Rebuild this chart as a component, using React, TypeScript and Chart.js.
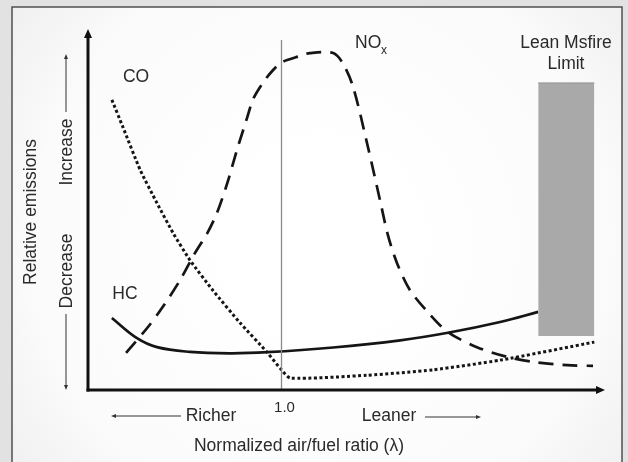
import { useEffect, useRef } from "react";
import { Chart, registerables } from "chart.js";

Chart.register(...registerables);

// Normalized air/fuel ratio (lambda) and relative emissions (0-100, arbitrary units)
const CO_LAMBDA = [0.737, 0.754, 0.781, 0.807, 0.832, 0.858, 0.894, 0.936, 0.978, 0.999, 1.014, 1.133, 1.235, 1.339, 1.485];
const CO_VALUES = [80.6, 73.1, 61.1, 51.9, 43.6, 36.1, 27.6, 18.6, 10.4, 5.8, 3.3, 4.1, 5.6, 8.3, 13.3];

const HC_LAMBDA = [0.737, 0.776, 0.807, 0.858, 0.92, 0.978, 1.08, 1.184, 1.258, 1.339, 1.398];
const HC_VALUES = [20.0, 14.4, 11.9, 10.6, 10.2, 10.5, 11.8, 13.8, 15.9, 18.9, 21.7];

const NOX_LAMBDA = [0.759, 0.793, 0.816, 0.843, 0.866, 0.885, 0.9, 0.916, 0.931, 0.947, 0.956, 0.971, 0.987, 1.001, 1.029, 1.044, 1.08, 1.095, 1.111, 1.134, 1.153, 1.165, 1.179, 1.199, 1.23, 1.258, 1.303, 1.35, 1.39, 1.443, 1.483];
const NOX_VALUES = [10.3, 17.5, 23.1, 30.6, 38.1, 43.6, 49.2, 57.5, 66.7, 75.8, 80.8, 85.3, 88.9, 91.1, 92.8, 93.6, 93.6, 90.8, 84.2, 67.5, 52.5, 43.0, 35.3, 27.8, 21.0, 16.1, 11.9, 9.2, 7.8, 6.9, 6.7];

// Stoichiometric reference line
const STOICH_LAMBDA = [1.0, 1.0];
const STOICH_VALUES = [0, 97.2];

// Lean misfire limit band
const MISFIRE_LAMBDA = [1.398, 1.485];
const MISFIRE_TOP = [85.3, 85.3];
const MISFIRE_BOTTOM = 15.0;

const X_TICK_LABEL = "1.0";
const X_TICK_VALUE = 1.0;

const FONT = "'Liberation Sans', Arial, sans-serif";
const INK = "#2a2a2a";

const pts = (xs: number[], ys: number[]) => xs.map((x, i) => ({ x, y: ys[i] }));

function arrow(
  ctx: CanvasRenderingContext2D,
  x1: number, y1: number, x2: number, y2: number,
  lw: number, headLen: number, headW: number, color: string
) {
  const ang = Math.atan2(y2 - y1, x2 - x1);
  ctx.save();
  ctx.strokeStyle = color;
  ctx.fillStyle = color;
  ctx.lineWidth = lw;
  ctx.beginPath();
  ctx.moveTo(x1, y1);
  ctx.lineTo(x2 - Math.cos(ang) * headLen * 0.6, y2 - Math.sin(ang) * headLen * 0.6);
  ctx.stroke();
  ctx.beginPath();
  ctx.moveTo(x2, y2);
  ctx.lineTo(
    x2 - Math.cos(ang) * headLen - Math.sin(ang) * headW / 2,
    y2 - Math.sin(ang) * headLen + Math.cos(ang) * headW / 2
  );
  ctx.lineTo(
    x2 - Math.cos(ang) * headLen + Math.sin(ang) * headW / 2,
    y2 - Math.sin(ang) * headLen - Math.cos(ang) * headW / 2
  );
  ctx.closePath();
  ctx.fill();
  ctx.restore();
}

export default function App() {
  const ref = useRef<HTMLCanvasElement>(null);

  useEffect(() => {
    const canvas = ref.current;
    if (!canvas) return;

    const bgPlugin = {
      id: "bgFrame",
      beforeDraw(chart: any) {
        const ctx: CanvasRenderingContext2D = chart.ctx;
        const w = chart.width;
        const h = chart.height;
        ctx.save();
        ctx.fillStyle = "#e2e2e2";
        ctx.fillRect(0, 0, w, h);
        const g = ctx.createRadialGradient(320, 240, 80, 320, 240, 420);
        g.addColorStop(0, "#ffffff");
        g.addColorStop(0.6, "#fbfbfb");
        g.addColorStop(1, "#ececec");
        ctx.fillStyle = g;
        ctx.fillRect(12, 7, 610, h);
        ctx.strokeStyle = "#505050";
        ctx.lineWidth = 1.5;
        ctx.beginPath();
        ctx.moveTo(12, h + 5);
        ctx.lineTo(12, 7);
        ctx.lineTo(622, 7);
        ctx.lineTo(622, h + 5);
        ctx.stroke();
        ctx.restore();
      },
    };

    const decoPlugin = {
      id: "deco",
      afterDraw(chart: any) {
        const ctx: CanvasRenderingContext2D = chart.ctx;
        const xs = chart.scales.x;
        const ys = chart.scales.y;
        const x0 = xs.getPixelForValue(xs.min);
        const x1 = xs.getPixelForValue(xs.max);
        const y0 = ys.getPixelForValue(ys.min);
        const y1 = ys.getPixelForValue(ys.max);

        // main axes with arrow heads
        arrow(ctx, x0, y0 + 1.5, x0, y1 - 1, 3, 9, 8, "#111");
        arrow(ctx, x0 - 1.5, y0, x1 + 1, y0, 3, 9, 8, "#111");

        ctx.save();
        ctx.fillStyle = INK;
        ctx.textAlign = "center";
        ctx.textBaseline = "middle";

        // x tick label
        ctx.font = `15px ${FONT}`;
        ctx.fillText(X_TICK_LABEL, xs.getPixelForValue(X_TICK_VALUE) + 3, 408);

        ctx.font = `17.5px ${FONT}`;
        ctx.fillText("Richer", 211, 416);
        ctx.fillText("Leaner", 389, 416);
        ctx.fillText("Normalized air/fuel ratio (\u03bb)", 299, 446);

        // series labels
        ctx.fillText("CO", 136, 77);
        ctx.fillText("HC", 125, 294);
        ctx.textAlign = "left";
        ctx.fillText("NO", 355, 43);
        ctx.font = `12px ${FONT}`;
        ctx.fillText("x", 381, 51);
        ctx.textAlign = "center";
        ctx.font = `17.5px ${FONT}`;
        ctx.fillText("Lean Msfire", 566, 43);
        ctx.fillText("Limit", 566, 64);

        // rotated y labels
        ctx.save();
        ctx.translate(31, 212);
        ctx.rotate(-Math.PI / 2);
        ctx.fillText("Relative emissions", 0, 0);
        ctx.restore();

        ctx.save();
        ctx.translate(67, 152);
        ctx.rotate(-Math.PI / 2);
        ctx.fillText("Increase", 0, 0);
        ctx.restore();

        ctx.save();
        ctx.translate(67, 271);
        ctx.rotate(-Math.PI / 2);
        ctx.fillText("Decrease", 0, 0);
        ctx.restore();
        ctx.restore();

        // small direction arrows
        arrow(ctx, 66, 112, 66, 54, 1, 5, 4, "#333");
        arrow(ctx, 66, 314, 66, 390, 1, 5, 4, "#333");
        arrow(ctx, 181, 416, 111, 416, 1, 5, 4, "#333");
        arrow(ctx, 425, 417, 481, 417, 1, 5, 4, "#333");
      },
    };

    const chart = new Chart(canvas, {
      type: "line",
      data: {
        datasets: [
          {
            label: "Stoich",
            data: pts(STOICH_LAMBDA, STOICH_VALUES),
            borderColor: "#8a8a8a",
            borderWidth: 1.3,
            pointRadius: 0,
            fill: false,
            tension: 0,
          },
          {
            label: "Lean Misfire Limit",
            data: pts(MISFIRE_LAMBDA, MISFIRE_TOP),
            borderColor: "#949494",
            borderWidth: 1,
            backgroundColor: "#a9a9a9",
            pointRadius: 0,
            fill: { value: MISFIRE_BOTTOM },
            tension: 0,
          },
          {
            label: "HC",
            data: pts(HC_LAMBDA, HC_VALUES),
            borderColor: "#151515",
            borderWidth: 2.7,
            pointRadius: 0,
            fill: false,
            tension: 0.4,
          },
          {
            label: "NOx",
            data: pts(NOX_LAMBDA, NOX_VALUES),
            borderColor: "#151515",
            borderWidth: 2.7,
            borderDash: [15, 9],
            pointRadius: 0,
            fill: false,
            tension: 0.3,
          },
          {
            label: "CO",
            data: pts(CO_LAMBDA, CO_VALUES),
            borderColor: "#151515",
            borderWidth: 3,
            borderDash: [3, 2.5],
            pointRadius: 0,
            fill: false,
            tension: 0.2,
          },
        ],
      },
      options: {
        animation: false,
        responsive: true,
        maintainAspectRatio: false,
        layout: { padding: { left: 88, right: 24, top: 30, bottom: 72 } },
        plugins: { legend: { display: false }, tooltip: { enabled: false }, title: { display: false } },
        events: [],
        scales: {
          x: { type: "linear", min: 0.7, max: 1.5, display: false },
          y: { type: "linear", min: 0, max: 100, display: false },
        },
      },
      plugins: [bgPlugin, decoPlugin],
    } as any);

    return () => chart.destroy();
  }, []);

  return (
    <div style={{ position: "absolute", left: 0, top: 0, width: 628, height: 462 }}>
      <canvas ref={ref} />
    </div>
  );
}
